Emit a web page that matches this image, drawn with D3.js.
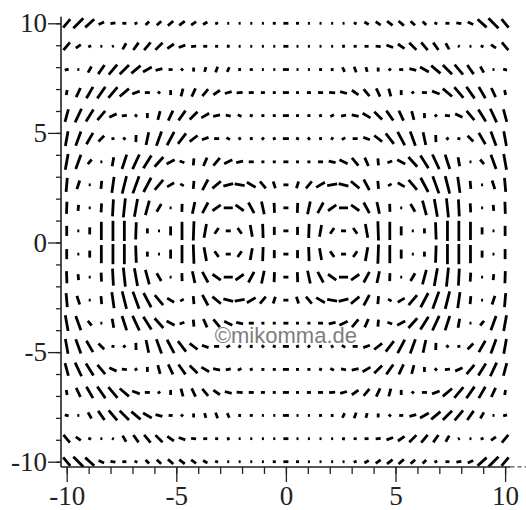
<!DOCTYPE html>
<html>
<head>
<meta charset="utf-8">
<script src="https://cdn.jsdelivr.net/npm/d3@7"></script>
<style>
  body { margin: 0; background: #fff; }
  svg { display: block; }
</style>
</head>
<body>
<svg id="chart" width="526" height="510"></svg>
<script>
// grid of the field plot: 39 columns, 20 rows
const colX = [-10, -9.47, -8.95, -8.42, -7.89, -7.37, -6.84, -6.32, -5.79, -5.26, -4.74, -4.21, -3.68, -3.16, -2.63, -2.11, -1.58, -1.05, -0.53, 0,
  0.53, 1.05, 1.58, 2.11, 2.63, 3.16, 3.68, 4.21, 4.74, 5.26, 5.79, 6.32, 6.84, 7.37, 7.89, 8.42, 8.95, 9.47, 10];
const rowY = [10, 8.95, 7.89, 6.84, 5.79, 4.74, 3.68, 2.63, 1.58, 0.53, -0.53, -1.58, -2.63, -3.68, -4.74, -5.79, -6.84, -7.89, -8.95, -10];

// direction of each segment, degrees (one row per rowY entry)
const angle = [
  [50,45,42,25,10,0,20,45,42,40,38,35,30,20,0,0,0,0,0,0,0,0,0,0,0,-20,-30,-35,-38,-40,-42,-45,-20,0,-10,-25,-42,-45,-50],
  [50,35,20,0,30,60,55,50,45,35,20,5,0,0,80,0,0,0,0,0,0,0,0,0,-80,0,0,-5,-20,-35,-45,-50,-55,-60,-30,0,-20,-35,-50],
  [15,0,60,55,50,45,40,30,15,0,-45,90,75,70,65,90,0,0,0,0,0,0,0,-90,-65,-70,-75,-90,45,0,-15,-30,-40,-45,-50,-55,-60,0,-15],
  [80,65,60,55,50,40,20,0,-40,90,75,65,50,35,15,5,0,0,0,0,0,0,0,-5,-15,-35,-50,-65,-75,-90,40,0,-20,-40,-50,-55,-60,-65,-80],
  [75,65,58,50,25,5,-40,90,75,65,55,45,30,12,-10,-25,-20,0,0,0,0,0,20,25,10,-12,-30,-45,-55,-65,-75,-90,40,-5,-25,-50,-58,-65,-75],
  [80,70,60,45,10,-40,88,78,70,62,52,38,20,0,-30,-60,90,45,20,0,-20,-45,-90,60,30,0,-20,-38,-52,-62,-70,-78,-88,40,-10,-45,-60,-70,-80],
  [80,70,50,0,80,72,65,58,48,28,-20,85,66,50,26,12,0,0,0,0,0,0,0,-12,-26,-50,-66,-85,20,-28,-48,-58,-65,-72,-80,0,-50,-70,-80],
  [85,72,0,85,82,76,70,62,50,30,-30,85,62,40,15,-10,-30,-50,-72,0,72,50,30,10,-15,-40,-62,-85,30,-30,-50,-62,-70,-76,-82,-85,0,-72,-85],
  [88,85,0,87,87,84,80,75,60,0,88,78,62,35,0,-35,-62,-78,-88,0,88,78,62,35,0,-35,-62,-78,-88,0,-60,-75,-80,-84,-87,-87,0,-85,-88],
  [90,0,90,90,90,90,88,90,0,90,90,88,80,55,0,-55,-80,-88,90,0,-90,88,80,55,0,-55,-80,-88,-90,-90,0,-90,-88,-90,-90,-90,-90,0,-90],
  [-90,0,-90,-90,-90,-90,-88,-90,0,-90,-90,-88,-80,-55,0,55,80,88,-90,0,90,-88,-80,-55,0,55,80,88,90,90,0,90,88,90,90,90,90,0,90],
  [-88,-85,0,-87,-87,-84,-80,-75,-60,0,-88,-78,-62,-35,0,35,62,78,88,0,-88,-78,-62,-35,0,35,62,78,88,0,60,75,80,84,87,87,0,85,88],
  [-85,-72,0,-85,-82,-76,-70,-62,-50,-30,30,-85,-62,-40,-15,10,30,50,72,0,-72,-50,-30,-10,15,40,62,85,-30,30,50,62,70,76,82,85,0,72,85],
  [-80,-70,-50,0,-80,-72,-65,-58,-48,-28,20,-85,-66,-50,-26,-12,0,0,0,0,0,0,0,12,26,50,66,85,-20,28,48,58,65,72,80,0,50,70,80],
  [-80,-70,-60,-45,-10,40,-88,-78,-70,-62,-52,-38,-20,0,30,60,-90,-45,-20,0,20,45,90,-60,-30,0,20,38,52,62,70,78,88,-40,10,45,60,70,80],
  [-75,-65,-58,-50,-25,-5,40,-90,-75,-65,-55,-45,-30,-12,10,25,20,0,0,0,0,0,-20,-25,-10,12,30,45,55,65,75,90,-40,5,25,50,58,65,75],
  [-80,-65,-60,-55,-50,-40,-20,0,40,-90,-75,-65,-50,-35,-15,-5,0,0,0,0,0,0,0,5,15,35,50,65,75,90,-40,0,20,40,50,55,60,65,80],
  [-15,0,-60,-55,-50,-45,-40,-30,-15,0,45,-90,-75,-70,-65,-90,0,0,0,0,0,0,0,90,65,70,75,90,-45,0,15,30,40,45,50,55,60,0,15],
  [-50,-35,-20,0,-30,-60,-55,-50,-45,-35,-20,-5,0,0,-80,0,0,0,0,0,0,0,0,0,80,0,0,5,20,35,45,50,55,60,30,0,20,35,50],
  [-50,-45,-42,-25,-10,0,-20,-45,-42,-40,-38,-35,-30,-20,0,0,0,0,0,0,0,0,0,0,0,20,30,35,38,40,42,45,20,0,10,25,42,45,50]
];

// magnitude of each segment (0..20)
const magnitude = [
  [11,14,12,6,5,4,3,5,6,7,7,6,5,3,2,2,2,2,3,5,3,2,2,2,2,3,5,6,7,7,6,5,3,4,5,6,12,14,11],
  [10,6,3,2,2,7,9,10,10,8,7,5,4,3,3,2,2,2,2,5,2,2,2,2,3,3,4,5,7,8,10,10,9,7,2,2,3,6,10],
  [4,2,7,11,13,13,12,10,7,4,3,4,5,6,5,3,3,2,2,6,2,2,3,3,5,6,5,4,3,4,7,10,12,13,13,11,7,2,4],
  [5,10,13,14,14,12,8,5,3,5,8,9,9,8,7,6,5,4,3,6,3,4,5,6,7,8,9,9,8,5,3,5,8,12,14,14,13,10,5],
  [13,15,14,12,8,5,3,5,9,11,12,11,9,7,5,4,3,3,3,6,3,3,3,4,5,7,9,11,12,11,9,5,3,5,8,12,14,15,13],
  [15,15,13,8,3,3,7,13,15,15,13,10,7,5,4,3,3,3,3,6,3,3,3,3,4,5,7,10,13,15,15,13,7,3,3,8,13,15,15],
  [16,15,6,2,9,15,16,15,13,9,5,7,9,10,9,7,5,3,3,5,3,3,5,7,9,10,9,7,5,9,13,15,16,15,9,2,6,15,16],
  [14,9,2,8,16,18,18,16,13,8,4,8,12,11,10,10,10,9,7,5,7,9,10,10,10,11,12,8,4,8,13,16,18,18,16,8,2,9,14],
  [12,6,2,9,17,19,18,15,9,2,8,12,12,10,9,10,12,13,10,5,10,13,12,10,9,10,12,12,8,2,9,15,18,19,17,9,2,6,12],
  [10,2,7,18,20,20,17,5,2,9,18,19,14,7,5,7,12,14,8,5,8,14,12,7,5,7,14,19,18,9,2,5,17,20,20,18,7,2,10],
  [10,2,7,18,20,20,17,5,2,9,18,19,14,7,5,7,12,14,8,5,8,14,12,7,5,7,14,19,18,9,2,5,17,20,20,18,7,2,10],
  [12,6,2,9,17,19,18,15,9,2,8,12,12,10,9,10,12,13,10,5,10,13,12,10,9,10,12,12,8,2,9,15,18,19,17,9,2,6,12],
  [14,9,2,8,16,18,18,16,13,8,4,8,12,11,10,10,10,9,7,5,7,9,10,10,10,11,12,8,4,8,13,16,18,18,16,8,2,9,14],
  [16,15,6,2,9,15,16,15,13,9,5,7,9,10,9,7,5,3,3,5,3,3,5,7,9,10,9,7,5,9,13,15,16,15,9,2,6,15,16],
  [15,15,13,8,3,3,7,13,15,15,13,10,7,5,4,3,3,3,3,6,3,3,3,3,4,5,7,10,13,15,15,13,7,3,3,8,13,15,15],
  [13,15,14,12,8,5,3,5,9,11,12,11,9,7,5,4,3,3,3,6,3,3,3,4,5,7,9,11,12,11,9,5,3,5,8,12,14,15,13],
  [5,10,13,14,14,12,8,5,3,5,8,9,9,8,7,6,5,4,3,6,3,4,5,6,7,8,9,9,8,5,3,5,8,12,14,14,13,10,5],
  [4,2,7,11,13,13,12,10,7,4,3,4,5,6,5,3,3,2,2,6,2,2,3,3,5,6,5,4,3,4,7,10,12,13,13,11,7,2,4],
  [10,6,3,2,2,7,9,10,10,8,7,5,4,3,3,2,2,2,2,5,2,2,2,2,3,3,4,5,7,8,10,10,9,7,2,2,3,6,10],
  [11,14,12,6,5,4,3,5,6,7,7,6,5,3,2,2,2,2,3,5,3,2,2,2,2,3,5,6,7,7,6,5,3,4,5,6,12,14,11]
];

const majorTicks = [-10, -5, 0, 5, 10];
const minorTicks = [-10, -9, -8, -7, -6, -5, -4, -3, -2, -1, 0, 1, 2, 3, 4, 5, 6, 7, 8, 9, 10];
const tickLabel = { "-10": "-10", "-5": "-5", "0": "0", "5": "5", "10": "10" };
const watermark = "\u00A9mikomma.de";

const svg = d3.select("#chart");

const x = d3.scaleLinear().domain([-10, 10]).range([66.7, 505.1]);
const y = d3.scaleLinear().domain([-10, 10]).range([461.7, 23.3]);
// magnitude -> half-length in data units
const half = d3.scaleLinear().domain([0, 20]).range([0, 0.46]);

// flatten grid into segments
const segs = [];
rowY.forEach((yv, j) => {
    colX.forEach((xv, i) => {
        const a = angle[j][i] * Math.PI / 180;
        const h = half(magnitude[j][i]);
        segs.push({
            x1: xv - h * Math.cos(a), y1: yv - h * Math.sin(a),
            x2: xv + h * Math.cos(a), y2: yv + h * Math.sin(a)
        });
    });
});

svg.append("g")
    .attr("stroke", "#000")
    .attr("stroke-width", 2.8)
    .selectAll("line")
    .data(segs)
    .join("line")
    .attr("x1", d => x(d.x1))
    .attr("y1", d => y(d.y1))
    .attr("x2", d => x(d.x2))
    .attr("y2", d => y(d.y2));

// axes sit just outside the grid, Maple style
const axisX = x(-10.26);
const axisY = y(-10.24);

// y axis
const gy = svg.append("g").attr("transform", `translate(${axisX},0)`);
gy.call(d3.axisLeft(y).tickValues(minorTicks).tickSize(5).tickSizeOuter(0).tickFormat(""));
gy.select(".domain").remove();
const gyMajor = svg.append("g").attr("transform", `translate(${axisX},0)`)
    .call(d3.axisLeft(y).tickValues(majorTicks).tickSize(13).tickSizeOuter(0).tickPadding(1)
        .tickFormat(d => tickLabel[d]));
gyMajor.select(".domain").remove();

// x axis
const gx = svg.append("g").attr("transform", `translate(0,${axisY})`);
gx.call(d3.axisBottom(x).tickValues(minorTicks).tickSize(7).tickSizeOuter(0).tickFormat(""));
gx.select(".domain").remove();
const gxMajor = svg.append("g").attr("transform", `translate(0,${axisY})`)
    .call(d3.axisBottom(x).tickValues(majorTicks).tickSize(15).tickSizeOuter(0).tickPadding(4)
        .tickFormat(d => tickLabel[d]));
gxMajor.select(".domain").remove();

svg.selectAll(".tick line").attr("stroke", "#222").attr("stroke-width", 1.3);
svg.selectAll(".tick text")
    .attr("fill", "#222")
    .style("font-family", "'Liberation Serif', 'DejaVu Serif', serif")
    .style("font-size", "27px");

// axis lines
svg.append("line")
    .attr("x1", axisX).attr("x2", axisX)
    .attr("y1", y(10.3)).attr("y2", axisY)
    .attr("stroke", "#222").attr("stroke-width", 1.6);
svg.append("line")
    .attr("x1", axisX).attr("x2", x(10.25))
    .attr("y1", axisY).attr("y2", axisY)
    .attr("stroke", "#222").attr("stroke-width", 1.6);
svg.append("line")
    .attr("x1", x(10.25)).attr("x2", 526)
    .attr("y1", axisY).attr("y2", axisY)
    .attr("stroke", "#555").attr("stroke-width", 1.2)
    .attr("stroke-dasharray", "4,3");

// watermark
svg.append("text")
    .attr("x", x(0))
    .attr("y", y(-4.6))
    .attr("text-anchor", "middle")
    .attr("fill", "#7d7d7d")
    .style("font-family", "'Liberation Sans', Arial, sans-serif")
    .style("font-size", "22px")
    .text(watermark);
</script>
</body>
</html>
